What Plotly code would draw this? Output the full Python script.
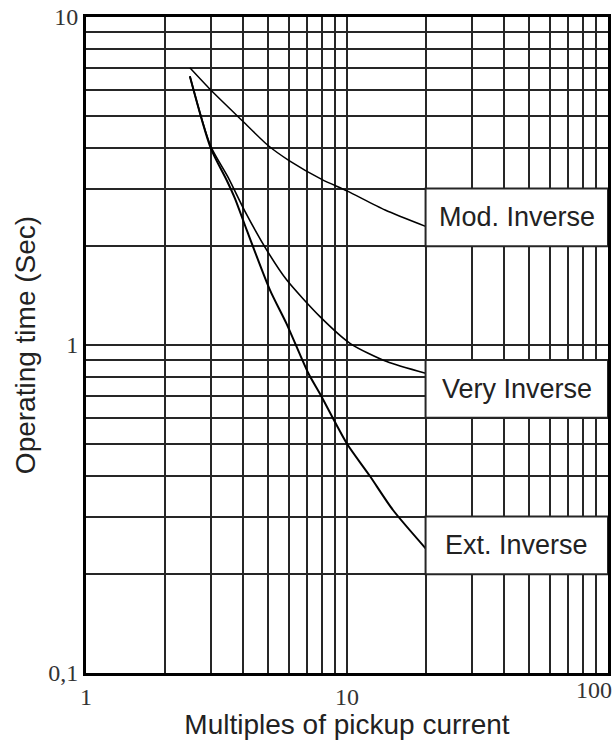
import numpy as np
import plotly.graph_objects as go

# Multiples of pickup current (x) and operating time in seconds (y)
mi_x = [2.5, 3.0, 4.0, 5.0, 6.0, 8.0, 10.0, 14.0, 20.0]
mi_y = [7.0, 6.0, 4.8, 4.05, 3.65, 3.2, 2.95, 2.58, 2.3]

vi_x = [2.5, 3.0, 3.5, 4.07, 4.92, 5.87, 7.88, 10.3, 14.2, 20.0]
vi_y = [6.6, 4.05, 3.25, 2.55, 1.95, 1.58, 1.22, 1.01, 0.89, 0.82]

ei_x = [2.5, 3.0, 3.46, 3.72, 4.13, 5.07, 5.87, 7.11, 7.88, 10.0, 12.2, 15.0, 20.0]
ei_y = [6.6, 4.0, 3.18, 2.8, 2.24, 1.47, 1.16, 0.82, 0.71, 0.5, 0.4, 0.314, 0.24]

curve_names = ["Mod. Inverse", "Very Inverse", "Ext. Inverse"]
# grid values that bracket each curve label
label_bands = [(2, 3), (0.6, 0.9), (0.2, 0.3)]

x_grid = [m * 10 ** d for d in range(2) for m in range(1, 10)] + [100]
y_grid = [m * 10 ** d for d in (-1, 0) for m in range(1, 10)] + [10]
x_tick_text = {1: "1", 10: "10"}
y_tick_text = {0.1: "0,1", 1: "1", 10: "10"}

GRID = "#262626"
SERIF = "Liberation Serif, Times New Roman"
SANS = "Liberation Sans, Arial"
fig = go.Figure()

for xs, ys, w in [(mi_x, mi_y, 1.5), (vi_x, vi_y, 1.6), (ei_x, ei_y, 2.0)]:
    fig.add_trace(go.Scatter(x=xs, y=ys, mode="lines",
                             line=dict(color="black", width=w, shape="spline", smoothing=0.7),
                             showlegend=False, hoverinfo="skip"))

curve_ends = [mi_x[-1], vi_x[-1], ei_x[-1]]
for name, (lo, hi), xe in zip(curve_names, label_bands, curve_ends):
    fig.add_shape(type="rect", xref="x", yref="y", x0=xe, x1=100, y0=lo, y1=hi,
                  fillcolor="white", line=dict(color=GRID, width=2), layer="above")
    fig.add_annotation(x=(np.log10(xe) + 2) / 2, y=(np.log10(lo) + np.log10(hi)) / 2,
                       xref="x", yref="y", text=name, showarrow=False,
                       font=dict(family=SANS, size=27, color="#222"))

fig.add_annotation(x=2, y=0, xref="x", yref="paper", text="100", showarrow=False,
                   xanchor="right", yanchor="top", xshift=6, yshift=-2,
                   font=dict(family=SERIF, size=24, color="#333"))

fig.update_xaxes(type="log", range=[0, 2], tickvals=x_grid,
                 ticktext=[x_tick_text.get(v, "") for v in x_grid],
                 showgrid=True, gridcolor=GRID, gridwidth=2,
                 showline=True, linecolor="black", linewidth=3, mirror=True,
                 ticks="", zeroline=False,
                 tickfont=dict(family=SERIF, size=24, color="#333"),
                 title=dict(text="Multiples of pickup current", standoff=10,
                            font=dict(family=SANS, size=28, color="#222")))
fig.update_yaxes(type="log", range=[-1, 1], tickvals=y_grid,
                 ticktext=[y_tick_text.get(round(v, 6), "") for v in y_grid],
                 showgrid=True, gridcolor=GRID, gridwidth=2,
                 showline=True, linecolor="black", linewidth=3, mirror=True,
                 ticks="", zeroline=False,
                 tickfont=dict(family=SERIF, size=24, color="#333"),
                 title=dict(text="Operating time (Sec)", standoff=5,
                            font=dict(family=SANS, size=28, color="#222")))

fig.update_layout(width=616, height=740, plot_bgcolor="white", paper_bgcolor="white",
                  margin=dict(l=86, r=8, t=17, b=67, autoexpand=False))

fig.write_html("out.html", config={"displayModeBar": False},
               post_script="document.body.style.margin='0';")
